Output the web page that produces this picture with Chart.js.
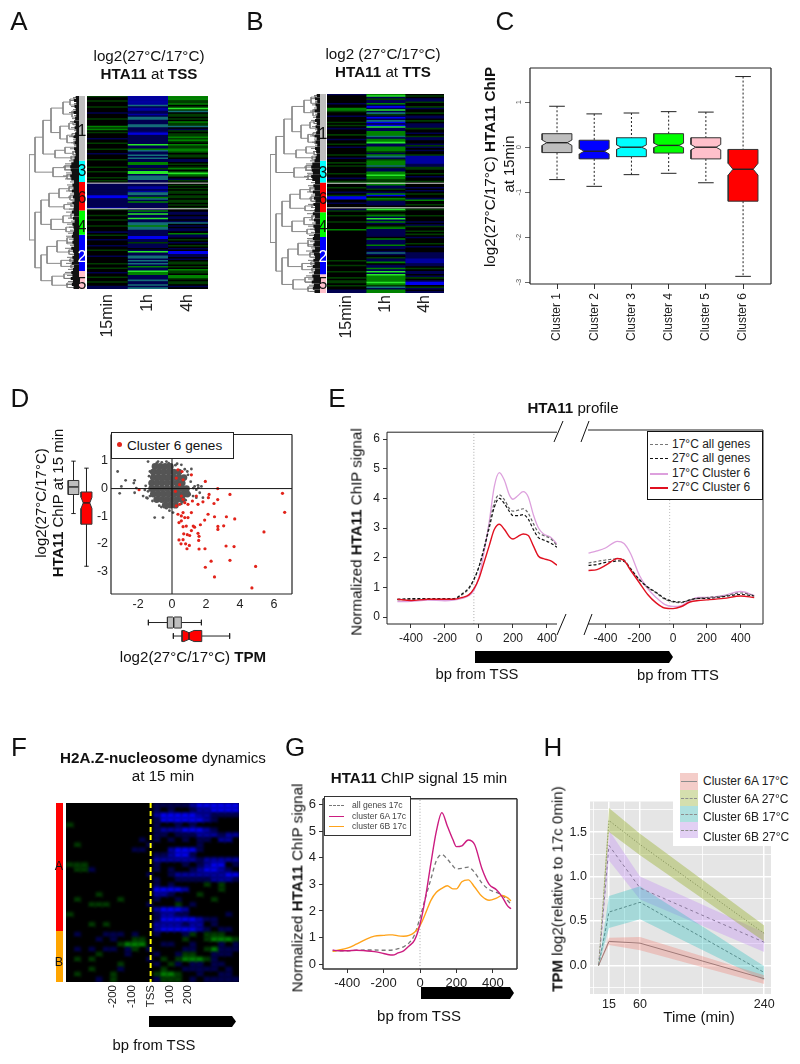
<!DOCTYPE html>
<html>
<head>
<meta charset="utf-8">
<title>HTA11 figure</title>
<script src="https://cdn.jsdelivr.net/npm/chart.js@4"></script>
<style>
html, body { margin: 0; background: #fff; overflow: hidden; }
#page { position: relative; width: 800px; height: 1064px; font-family: "Liberation Sans", Arial, sans-serif; color: #111; }
#page canvas { position: absolute; }
#page svg { position: absolute; left: 0; top: 0; }
.t { position: absolute; white-space: nowrap; line-height: 1; }
.box { position: absolute; background: #fff; box-sizing: border-box; }
</style>
</head>
<body>
<div id="page"></div>
<script>
// ---- heatmaps A / B, one string per time column, one letter per row
const heatTimes = ['15min', '1h', '4h'];
const heatA15 = 'g..g...g..' + '.a...g....' + 'hgh.g...a.' + '.g...g..a.' + '..g....g..' + 'g...g.g.aa' + 'aaaaaaccaa' + 'aaaabg...g' + '..g...g...' + 'a.g..a...a' + '..g...a...' + '.g..g..a..' + 'g..g..aa';
const heatA1h = 'bbbbbbtabb' + 'aabattaaat' + 'taaabcaaaa' + 'aaiaahtaat' + 'ataahhaaga' + 'iiatttaaaa' + 'bbabttahta' + 'haaaaahaia' + 'aiaatthtta' + 'aaaccaagaa' + 'a.aiaattat' + 'atahaaihha' + 'aataatat';
const heatA4h = 'hhhggh.gig' + 't.gg.g.hgg' + 't.ag.gghgh' + 'g.hgghhg.g' + 'g.aa.g.gh.' + 'gihg.ag..g' + '.g.gg.gg.g' + 'g.g.g..aa.' + 'aa.at.a.aa' + '.haa.g.a.g' + '.a.ccaa.a.' + 'gg.g.hgg.h' + 'hg.gg.a.';
const heatB15 = 'a.....a..h' + 'hg..a...g.' + 'g.a...g..a' + '..g.a....g' + '.a..g.g...' + '.g..a.gg..' + 'g..a.gcc..' + 'a...ag..g.' + '..g....h..' + '..........' + '.......g..' + 'g...g...g.' + 'gg.g..aa';
const heatB1h = 'hiagaahaca' + 'iatgacatca' + 'ciaahhhtah' + 'hiaahhhgah' + 'taghhhtgaa' + 'hhihhgghha' + 'ag.ahc.hga' + 'aa.gig.gha' + 'iaha.ghaaa' + 'aa.haaahaa' + '.ata.gaah.' + 'aahaiaihhh' + 'hihgtahh';
const heatB4h = '.g.aag..ga' + '..g.aa.g.a' + 'aag..a.gaa' + '..aga.a..g' + 'bbbbbaagg.' + '.g.a..g...' + 'a.a.g..ah.' + '.g..g...g.' + '..a.ag..g.' + 'g.a...g.a.' + '..aaaabbba' + 'a.g.aa.ag.' + 'acc.ga.a';

// dendrogram shared by A and B: [height, child, child], a number is a row
const clust1 = [36, [28, [16, [9, [5, 0.5, 1.5], [4, 2.5, 3.5]], [7, 5, [3, 6.5, 7.5]]], [19, [10, [6, 8.5, 9.5], 11], [12, [7, 12.5, 13.5], [5, 15, 16]]]], [24, [14, 17, [6, 18.5, 19.5]], [8, 20, 21]]];
const clust3 = [26, [14, 23, [6, 24, 25]], [12, 26, 27.5]];
const clust6 = [30, [20, [10, 30, 31.5], [9, 33, [4, 34, 35]]], [15, [8, 35.5, 36.5], 37.5]];
const clust4 = [28, [16, [8, 39, 40.5], 42], [13, 43.5, 45]];
const clust2 = [32, [22, [12, 47, [5, 48.5, 49.5]], [10, 51, 52.5]], [18, [9, 54, 55], [8, 56, 57]]];
const clust5 = [27, [15, 59, 60.5], [12, [6, 61.5, 62.5], 63.5]];
const treeRoot = [50, [44, clust1, clust3], [44, [38, clust6, clust4], [38, clust2, clust5]]];
const leafHeights = [6, 9, 5, 8, 6, 10, 5, 7, 9, 6, 8, 5, 7, 10, 6, 8, 5, 9, 7, 6, 8, 10, 14, 16, 15, 13, 16, 14, 9, 12,
  10, 13, 9, 11, 8, 12, 9, 10, 13, 9, 11, 8, 12, 10, 9, 11, 13, 10, 12, 9, 14, 11, 9, 12, 10, 13, 9, 11, 14, 12, 15, 11, 13, 10];
const clusterOrder = ['1', '3', '6', '4', '2', '5'];
const clusterRows = [21.5, 7, 9.5, 8, 12, 6];
const clusterColors = ['#bebebe', '#00ffff', '#ff0000', '#00ff00', '#0000ff', '#ffc0cb'];

// ---- C boxplot
const boxNames = ['Cluster 1', 'Cluster 2', 'Cluster 3', 'Cluster 4', 'Cluster 5', 'Cluster 6'];
const boxColors = ['#bebebe', '#0000ff', '#00ffff', '#00ff00', '#ffc0cb', '#ff0000'];
const boxHi = [0.91, 0.74, 0.76, 0.79, 0.78, 1.57];
const boxQ3 = [0.30, 0.155, 0.21, 0.30, 0.21, -0.05];
const boxMed = [0.10, -0.09, 0, 0.04, 0, -0.49];
const boxQ1 = [-0.12, -0.26, -0.21, -0.13, -0.26, -1.20];
const boxLo = [-0.72, -0.87, -0.61, -0.58, -0.79, -2.87];
const boxNotch = [0.06, 0.06, 0.05, 0.05, 0.06, 0.13];

// ---- D scatter
const coreX = [-1, -0.7, -0.4, -0.1, -1.1, -0.8, -0.5, -0.2, 0.1, 0.4, -1.1, -0.8, -0.5, -0.2, 0.1, 0.4, 0.7, -1.2, -0.9, -0.6, -0.3, 0, 0.3, 0.6,
  -1.2, -0.9, -0.6, -0.3, 0, 0.3, 0.6, 0.85, -1.1, -0.8, -0.5, -0.2, 0.1, 0.4, 0.7, 0.9, -0.9, -0.6, -0.3, 0, 0.3, 0.6, -0.4, -0.1, 0.2];
const coreY = [0.8, 0.8, 0.8, 0.8, 0.6, 0.6, 0.6, 0.6, 0.6, 0.6, 0.4, 0.4, 0.4, 0.4, 0.4, 0.4, 0.4, 0.2, 0.2, 0.2, 0.2, 0.2, 0.2, 0.2,
  0, 0, 0, 0, 0, 0, 0, 0, -0.2, -0.2, -0.2, -0.2, -0.2, -0.2, -0.2, -0.2, -0.4, -0.4, -0.4, -0.4, -0.4, -0.4, -0.6, -0.6, -0.6];
const greyX = [-3.2, -2.73, -2.98, -3.08, -2.2, -2.25, -2.1, -2.2, -1.7, -1.5, -1.02, -0.53, 0.06, -0.63, -0.33, -1.41, -0.82, -0.33, 0.55, 1.14, 0.94, 1.33, 1.53, 1.73, 1.63, 1.43, 1.24, 1.04, 1.43, 1.82, -1.3, -1.41, -1.3, -1.55, -1.6, -0.9, -0.6, -0.2, 0.2, 0.75, 1.1, -0.75, -0.15, 0.3, 0.9, 1.25, 1.55, -1.35, -1.45, -1.15, 0.55, 0.8];
const greyY = [0.62, 0.3, 0.08, -0.17, 0.3, 0.2, 0.02, -0.15, -0.27, -0.33, -1.05, -1.05, -0.87, -0.67, -0.71, 0.98, 0.98, 0.98, 0.86, 0.71, 0.5, 0.08, 0.12, 0.08, -0.15, -0.33, -0.27, -0.21, -0.04, -0.33, 0.62, -0.1, -0.27, 0.1, -0.05, 0.93, 0.95, 0.92, 0.85, 0.7, 0.25, -0.62, -0.8, 0.9, 0.62, 0.02, 0.03, 0.45, -0.35, -0.45, -0.55, -0.42];
const redX = [6.5, 6.63, 5.41, 4.92, 4.7, 2.5, 1.96, 2.3, 3.41, 3.65, 3.18, 3.69, 3.2, 3.04, 2.7, 2.7, 2.5, 2.12, 3.41, 2.69, 2.47, 2.18, 2.14, 2.69, 1.96, 1.94, 1.59, 1.57, 1.59, 1.53, 1.67, 1.92, 1.33, 1.25, 1.04, 0.88, 1.02, 0.8, 0.65, 0.41, 0.53, 0.69, 0.9, 1.14, 0.84, 0.65, 0.41, 0.55, 0.35, 0.55, 0.75, 0.94, 1.14, 0.65, 0.25, 0.45, 0.75, 0.94, 1.2, 1.53, 1.82, 0.55, 0.65, 0.2, 0.45, 0.65, 0.25, 0.35, 0.59, 1.14, -1.94, 1.43];
const redY = [-0.17, -0.86, -1.57, -2.82, -3.6, -3.2, -2.85, -2.63, -2.6, -2.1, -2.08, -1.1, -1.02, -1.35, -1.37, -1.48, -1.02, -0.93, -0.21, -0.4, -0.54, -0.21, -0.33, 0, 0.26, -2.18, -2.19, -1.88, -1.73, -1.62, -1.31, -1.14, -1.4, -1.36, -1.7, -2.18, -2.06, -2, -1.85, -1.86, -2, -1.64, -1.67, -1.52, -1.36, -1.38, -1.23, -1.17, -0.93, -0.99, -1.05, -1.05, -0.87, -0.87, -0.63, -0.57, -0.51, -0.57, -0.45, -0.57, -0.48, -0.27, -0.39, -0.1, 0.14, 0.32, 0.38, 0.68, 0.62, 0.5, -0.04, -0.27];
// side boxes of D: grey all genes, red cluster 6
const sideChip = { hi: [0.92, 0.67], q3: [0.23, -0.18], med: [0, -0.57], q1: [-0.27, -1.33], lo: [-0.95, -2.83], notch: [0.04, 0.2] };
const sideTpm = { hi: [1.73, 3.39], q3: [0.55, 1.75], med: [0.1, 1.0], q1: [-0.27, 0.59], lo: [-1.39, 0.08], notch: [0.06, 0.3] };

// ---- E profile
const tssBp = [-480, -400, -300, -200, -150, -100, -60, -30, 0, 30, 60, 90, 120, 150, 180, 200, 230, 260, 290, 320, 350, 380, 420, 460];
const tss17All = [0.58, 0.6, 0.6, 0.6, 0.6, 0.75, 0.95, 1.25, 1.7, 2.35, 3.1, 3.85, 4.12, 3.95, 3.65, 3.57, 3.6, 3.65, 3.5, 3.15, 2.85, 2.75, 2.65, 2.4];
const tss27All = [0.6, 0.62, 0.62, 0.62, 0.62, 0.78, 0.98, 1.27, 1.7, 2.3, 3.0, 3.7, 4.0, 3.82, 3.55, 3.42, 3.42, 3.45, 3.3, 2.95, 2.68, 2.6, 2.5, 2.35];
const tss17C6 = [0.52, 0.53, 0.57, 0.55, 0.57, 0.63, 0.72, 0.9, 1.35, 2.2, 3.2, 4.4, 4.87, 4.6, 4.1, 3.97, 4.1, 4.23, 4.05, 3.45, 3.0, 2.8, 2.7, 2.45];
const tss27C6 = [0.6, 0.56, 0.6, 0.6, 0.6, 0.66, 0.75, 0.95, 1.3, 1.85, 2.4, 2.95, 3.13, 2.95, 2.7, 2.63, 2.72, 2.8, 2.75, 2.4, 2.05, 1.97, 1.9, 1.75];
const ttsBp = [-500, -450, -400, -350, -330, -290, -250, -200, -150, -100, -50, 0, 50, 100, 150, 200, 300, 400, 480];
const tts17All = [1.8, 1.85, 1.9, 1.93, 1.95, 1.9, 1.6, 1.25, 0.98, 0.8, 0.6, 0.5, 0.48, 0.57, 0.62, 0.65, 0.7, 0.8, 0.72];
const tts27All = [1.72, 1.75, 1.82, 1.85, 1.87, 1.85, 1.6, 1.25, 1.0, 0.82, 0.62, 0.52, 0.5, 0.57, 0.62, 0.62, 0.68, 0.75, 0.7];
const tts17C6 = [2.13, 2.2, 2.3, 2.48, 2.52, 2.45, 2.1, 1.4, 0.95, 0.65, 0.42, 0.35, 0.38, 0.55, 0.65, 0.65, 0.72, 0.85, 0.72];
const tts27C6 = [1.55, 1.58, 1.72, 1.9, 1.95, 1.88, 1.55, 1.15, 0.75, 0.47, 0.3, 0.28, 0.35, 0.5, 0.55, 0.57, 0.62, 0.7, 0.65];

// ---- F heatmap, one string per row, one letter per bin
const dynRows = [
  '............aaaaabcccccc', '............a.a..abbcccc', '............bcccccbbaaaa', '............accccccba...',
  'g...........a..a.a......', '............abbbcccba...', '............aa.aaabbbabb', '..........a.a.a.a.aa.bb.',
  '.g.........a......a.....', '.........aa...bccca.....', '............aabcca......', '............bbbbbbabbbbb',
  'ggg.........a...a.abcc.a', '.gga........a.a..abccba.', '...........a..abbbbbbbcc', '............a..aaaaabbba',
  '............a.a....g.g..', '............ccccb....g..', '....g.......bba...g.....', '.g.....g....a..a....g...',
  '...ggg.....a...g.a......', '............bcccb.......', 'g...........abbaa.....a.', '............acccccbaa...',
  '...g.g......bbbbabb.a...', '............bcccccba.aa.', '.a...aaa.a..a...ag.ggg..', '....a.a..gg.....g..ghhhg',
  '.......ghhh..aa..a...a.a', '.a.a.aa.ag.a....aa.ghaaa', '....g...a...a..agg..aaa.', '.g.g.......a.g.ghhhga...',
  '.......g....a.ga.aa.aa..', '...g...a.....g..aaaaa.a.', '.g....g.....ghhg..a..aa.', '....a.g.....aggg.a.aaaaa'
];
const dynTicks = [-200, -100, 0, 100, 200];

// ---- G
const gBp = [-480, -450, -400, -350, -300, -250, -200, -170, -150, -120, -90, -60, -30, 0, 30, 60, 90, 120, 150, 180, 200, 230, 265, 300, 340, 380, 420, 450, 480, 500];
const gAll = [0.5, 0.5, 0.5, 0.52, 0.53, 0.53, 0.52, 0.52, 0.53, 0.58, 0.65, 0.8, 1.1, 1.75, 2.5, 3.2, 3.9, 4.12, 3.95, 3.7, 3.58, 3.6, 3.65, 3.45, 3.05, 2.8, 2.7, 2.6, 2.4, 2.25];
const g6A = [0.53, 0.5, 0.5, 0.52, 0.5, 0.47, 0.4, 0.35, 0.34, 0.42, 0.5, 0.68, 0.9, 1.5, 2.5, 3.8, 5.0, 5.7, 5.2, 4.7, 4.42, 4.45, 4.67, 4.5, 3.6, 3.0, 2.8, 2.55, 2.2, 2.08];
const g6B = [0.48, 0.52, 0.6, 0.75, 0.92, 1.05, 1.08, 1.1, 1.1, 1.06, 1.05, 1.08, 1.2, 1.45, 1.9, 2.4, 2.7, 2.85, 2.95, 2.83, 2.83, 3.1, 3.17, 2.9, 2.55, 2.4, 2.48, 2.58, 2.5, 2.38];

// ---- H
const hMin = [0, 15, 60, 240];
const h6A17 = [0, 0.27, 0.25, -0.15], h6A17Up = [0, 0.31, 0.32, -0.11], h6A17Lo = [0, 0.23, 0.17, -0.21];
const h6A27 = [0, 1.63, 1.36, 0.36], h6A27Up = [0, 1.77, 1.48, 0.45], h6A27Lo = [0, 1.5, 1.24, 0.27];
const h6B17 = [0, 0.6, 0.71, -0.08], h6B17Up = [0, 0.78, 0.89, -0.01], h6B17Lo = [0, 0.42, 0.52, -0.17];
const h6B27 = [0, 1.35, 0.87, 0.26], h6B27Up = [0, 1.52, 1.0, 0.37], h6B27Lo = [0, 1.18, 0.74, 0.15];

// ---- helpers
const FONT = 'Liberation Sans';
const page = document.getElementById('page');
const heatColor = { '.': '#000', a: '#000050', b: '#0000a0', c: '#0000f0', g: '#003c00', h: '#008200', i: '#28e628', t: '#146e78' };

const decor = {
  id: 'decor',
  beforeDraw(chart, args, o) {
    if (!o.bg) return;
    const a = chart.chartArea;
    chart.ctx.fillStyle = o.bg;
    chart.ctx.fillRect(a.left, a.top, a.right - a.left, a.bottom - a.top);
  },
  beforeDatasetsDraw(chart, args, o) {
    if (o.blur) chart.ctx.filter = `blur(${o.blur}px)`; // the source heatmaps are interpolated
  },
  afterDatasetsDraw(chart, args, o) {
    const a = chart.chartArea, c = chart.ctx;
    c.filter = 'none';
    c.save();
    (o.rows || []).forEach(r => { // separator lines across a heatmap
      const y = a.top + (a.bottom - a.top) * r / chart.data.labels.length;
      c.strokeStyle = '#d8d8d8'; c.lineWidth = 1;
      c.beginPath(); c.moveTo(a.left, y); c.lineTo(a.right, y); c.stroke();
    });
    if (o.tss !== undefined) {
      const x = chart.scales.x.getPixelForValue(o.tss);
      c.strokeStyle = '#ffff00'; c.lineWidth = 2; c.setLineDash([5, 3]);
      c.beginPath(); c.moveTo(x, a.top); c.lineTo(x, a.bottom); c.stroke();
      c.setLineDash([]);
    }
    if (o.sides) {
      c.strokeStyle = o.color || '#222'; c.lineWidth = o.width || 1;
      c.beginPath();
      if (o.sides.includes('l')) { c.moveTo(a.left, a.top); c.lineTo(a.left, a.bottom); }
      if (o.sides.includes('r')) { c.moveTo(a.right, a.top); c.lineTo(a.right, a.bottom); }
      if (o.sides.includes('t')) { c.moveTo(a.left, a.top); c.lineTo(a.right, a.top); }
      if (o.sides.includes('b')) { c.moveTo(a.left, a.bottom); c.lineTo(a.right, a.bottom); }
      c.stroke();
    }
    c.restore();
  }
};
Chart.register(decor);

// plot area lands at exactly x,y,w,h on the page
function plot(x, y, w, h, left, bottom, config) {
  const pad = 8;
  const cv = document.createElement('canvas');
  cv.width = w + left + pad; cv.height = h + bottom + pad;
  cv.style.left = (x - left) + 'px'; cv.style.top = (y - pad) + 'px';
  page.appendChild(cv);
  const o = config.options = config.options || {};
  o.responsive = false; o.animation = false; o.devicePixelRatio = 1;
  o.layout = { padding: { top: pad, right: pad, left: 0, bottom: 0 } };
  o.plugins = Object.assign({ legend: { display: false }, tooltip: { enabled: false }, title: { display: false } }, o.plugins);
  if (o.scales.y && o.scales.y.display !== false) o.scales.y.afterFit = s => { s.width = left; };
  if (o.scales.x && o.scales.x.display !== false) o.scales.x.afterFit = s => { s.height = bottom; };
  return new Chart(cv, config);
}

function txt(html, x, y, size, rot, color) {
  const d = document.createElement('div');
  d.className = 't';
  d.innerHTML = html;
  d.style.left = x + 'px'; d.style.top = y + 'px'; d.style.fontSize = size + 'px';
  d.style.transform = 'translate(-50%,-50%)' + (rot ? ' rotate(-90deg)' : '');
  if (color) d.style.color = color;
  page.appendChild(d);
}
function txtL(html, x, y, size, color) {
  const d = document.createElement('div');
  d.className = 't';
  d.innerHTML = html;
  d.style.left = x + 'px'; d.style.top = y + 'px'; d.style.fontSize = size + 'px';
  d.style.transform = 'translateY(-50%)';
  if (color) d.style.color = color;
  page.appendChild(d);
}

const pts = (xs, ys) => xs.map((x, i) => ({ x, y: ys[i] }));
const gap = { x: NaN, y: NaN };
const fixed = vals => s => { s.ticks = vals.map(value => ({ value })); };
const line = (data, color, width, dash, extra) => Object.assign({
  type: 'scatter', showLine: true, data, borderColor: color, borderWidth: width, borderDash: dash || [],
  pointRadius: 0, cubicInterpolationMode: 'monotone', fill: false
}, extra);
const straight = { cubicInterpolationMode: 'default' };
function axis(min, max, vals, size, len, opts) {
  return Object.assign({
    type: 'linear', min, max, afterBuildTicks: fixed(vals),
    border: { display: false },
    grid: { display: len > 0, drawOnChartArea: false, drawTicks: true, tickLength: len, color: '#333' },
    ticks: { autoSkip: false, padding: 3, color: '#222', font: { family: FONT, size } }
  }, opts);
}

// notched box, whisker and caps as scatter datasets; earlier datasets paint on top
function notchedBox(pos, i, s, color, half, capHalf, waist, horiz, dash) {
  const xy = (p, v) => horiz ? { x: v, y: p } : { x: p, y: v };
  const w = half, n = half * waist;
  const outline = [xy(pos - w, s.q1[i]), xy(pos + w, s.q1[i]), xy(pos + w, s.med[i] - s.notch[i]), xy(pos + n, s.med[i]), xy(pos + w, s.med[i] + s.notch[i]),
    xy(pos + w, s.q3[i]), xy(pos - w, s.q3[i]), xy(pos - w, s.med[i] + s.notch[i]), xy(pos - n, s.med[i]), xy(pos - w, s.med[i] - s.notch[i]), xy(pos - w, s.q1[i])];
  return [
    line([xy(pos - n, s.med[i]), xy(pos + n, s.med[i])], '#222', 1.4, [], straight),
    line(outline, '#333', 1, [], { cubicInterpolationMode: 'default', fill: 'shape', backgroundColor: color }),
    line([xy(pos, s.hi[i]), xy(pos, s.q3[i]), gap, xy(pos, s.q1[i]), xy(pos, s.lo[i])], '#222', 1, dash, straight),
    line([xy(pos - capHalf, s.hi[i]), xy(pos + capHalf, s.hi[i]), gap, xy(pos - capHalf, s.lo[i]), xy(pos + capHalf, s.lo[i])], '#222', 1, [], straight)
  ];
}

// heat cells as floating horizontal bars
function heat(x, y, w, h, bottom, cols, min, max, tickVals, tickText, fontSize, tickPad, deco) {
  const nRows = cols[0].length, step = (max - min) / cols.length;
  const labels = Array.from({ length: nRows }, (_, i) => i);
  const datasets = cols.map((col, j) => ({
    data: labels.map(() => [min + j * step, min + (j + 1) * step]),
    backgroundColor: labels.map(r => heatColor[col[r]] || '#000'),
    grouped: false, barPercentage: 1, categoryPercentage: 1, borderWidth: 0
  }));
  const xAxis = axis(min, max, tickVals, fontSize, 0);
  xAxis.ticks.minRotation = 90; xAxis.ticks.maxRotation = 90; xAxis.ticks.padding = tickPad;
  xAxis.ticks.callback = v => tickText[tickVals.indexOf(v)];
  plot(x, y, w, h, 0, bottom, {
    type: 'bar', data: { labels, datasets },
    options: { indexAxis: 'y', scales: { x: xAxis, y: { type: 'category', display: false } }, plugins: { decor: Object.assign({ bg: '#000' }, deco) } }
  });
}

function dendrogram(x, y, h) {
  const segs = [];
  const walk = node => {
    if (typeof node === 'number') return { y: node, h: 0 };
    const a = walk(node[1]), b = walk(node[2]);
    segs.push({ x: a.h, y: a.y }, { x: node[0], y: a.y }, { x: node[0], y: b.y }, { x: b.h, y: b.y }, gap);
    return { y: (a.y + b.y) / 2, h: node[0] };
  };
  walk(treeRoot);
  const combFine = [], combDark = [];
  leafHeights.forEach((lh, r) => {
    combFine.push({ x: lh, y: r + 0.5 }, { x: 0, y: r + 0.5 }, gap);
    combDark.push({ x: lh * 0.55, y: r + 0.5 }, { x: 0, y: r + 0.5 }, gap);
  });
  let start = 0;
  const bars = clusterRows.map((n, i) => {
    const d = line([{ x: -3, y: start }, { x: -3, y: start + n }], clusterColors[i], 6, [], { cubicInterpolationMode: 'default', borderCapStyle: 'butt' });
    start += n;
    return d;
  });
  plot(x, y, 58, h, 0, 0, {
    type: 'scatter',
    data: { datasets: [
      line(combDark, '#111', 3, [], { cubicInterpolationMode: 'default', borderCapStyle: 'butt' }),
      line(combFine, '#777', 1, [], straight),
      line(segs, '#8a8a8a', 1, [], straight)
    ].concat(bars) },
    options: { scales: { x: { type: 'linear', display: false, min: -8, max: 50, reverse: true }, y: { type: 'linear', display: false, min: 0, max: 64, reverse: true } } }
  });
}

// ---- A, B
dendrogram(29, 96, 193);
heat(87, 96, 121, 193, 60, [heatA15, heatA1h, heatA4h], 0, 3, [0.5, 1.5, 2.5], heatTimes, 16, 5, { rows: [57.8, 74.8], blur: 0.4 });
dendrogram(270, 94, 199);
heat(327, 94, 117, 199, 60, [heatB15, heatB1h, heatB4h], 0, 3, [0.5, 1.5, 2.5], heatTimes, 16, 2, { rows: [57.4, 73.2], blur: 0.4 });

// ---- C
let cSets = [];
boxNames.forEach((_, i) => {
  cSets = cSets.concat(notchedBox(i + 1, i, { hi: boxHi, q3: boxQ3, med: boxMed, q1: boxQ1, lo: boxLo, notch: boxNotch }, boxColors[i], 0.4, 0.21, 0.68, false, [2, 2]));
});
const cx = axis(0.274, 6.75, [1, 2, 3, 4, 5, 6], 12, 5);
cx.ticks.minRotation = 90; cx.ticks.maxRotation = 90; cx.ticks.padding = 4;
cx.ticks.callback = v => boxNames[v - 1];
const cy = axis(-3.04, 1.76, [-3, -2, -1, 0, 1], 7.5, 5);
cy.ticks.minRotation = 90; cy.ticks.maxRotation = 90; cy.ticks.crossAlign = 'center'; cy.ticks.color = '#555'; cy.ticks.padding = 3;
cy.grid.color = '#666';
plot(530, 68, 241, 216, 20, 72, { type: 'scatter', data: { datasets: cSets }, options: { scales: { x: cx, y: cy }, plugins: { decor: { sides: 'lrtb', width: 1.2 } } } });

// ---- D
const dMinX = -3.59, dMaxX = 7.06, dMinY = -3.82, dMaxY = 1.96;
plot(111, 432, 181, 162, 30, 22, {
  type: 'scatter',
  data: { datasets: [
    line([{ x: 0, y: dMinY }, { x: 0, y: dMaxY }], '#111', 1, [], straight),
    line([{ x: dMinX, y: 0 }, { x: dMaxX, y: 0 }], '#111', 1, [], straight),
    { data: pts(redX, redY), pointRadius: 1.6, backgroundColor: '#e2231a', borderWidth: 0 },
    { data: pts(greyX, greyY), pointRadius: 1.4, backgroundColor: '#555', borderWidth: 0 },
    { data: pts(coreX, coreY), pointRadius: 3.4, backgroundColor: '#555', borderWidth: 0 }
  ] },
  options: { scales: { x: axis(dMinX, dMaxX, [-2, 0, 2, 4, 6], 12.5, 0, {}), y: axis(dMinY, dMaxY, [-3, -2, -1, 0, 1], 12.5, 0, {}) }, plugins: { decor: { sides: 'lrtb', width: 1.2 } } }
});
// D side boxes share the scatter's ranges
plot(62, 432, 36, 162, 0, 0, {
  type: 'scatter',
  data: { datasets: notchedBox(1, 0, sideChip, '#bebebe', 0.42, 0.17, 0.88, false, []).concat(notchedBox(2, 1, sideChip, '#ff0000', 0.42, 0.17, 0.6, false, [])) },
  options: { scales: { x: { type: 'linear', display: false, min: 0.115, max: 2.885 }, y: { type: 'linear', display: false, min: dMinY, max: dMaxY } } }
});
plot(111, 612, 181, 34, 0, 0, {
  type: 'scatter',
  data: { datasets: notchedBox(1, 0, sideTpm, '#bebebe', 0.41, 0.2, 0.88, true, []).concat(notchedBox(2, 1, sideTpm, '#ff0000', 0.41, 0.2, 0.6, true, [])) },
  options: { scales: { x: { type: 'linear', display: false, min: dMinX, max: dMaxX }, y: { type: 'linear', display: false, min: 0.22, max: 2.74, reverse: true } } }
});

// ---- E
const eMinY = -0.233, eMaxY = 6.23;
plot(387, 430, 170, 194, 30, 26, {
  type: 'scatter',
  data: { datasets: [
    line(pts(tssBp, tss27C6), '#e01020', 1.4),
    line(pts(tssBp, tss27All), '#111', 1.2, [3, 2]),
    line(pts(tssBp, tss17All), '#666', 1.2, [3, 2]),
    line(pts(tssBp, tss17C6), '#dda0dd', 1.3),
    line([{ x: -30, y: eMinY }, { x: -30, y: eMaxY }], '#aaa', 1, [1, 2])
  ] },
  options: { scales: { x: axis(-541, 459, [-400, -200, 0, 200, 400], 12, 4), y: axis(eMinY, eMaxY, [0, 1, 2, 3, 4, 5, 6], 12, 4) }, plugins: { decor: { sides: 'ltb', width: 1 } } }
});
plot(588, 430, 175, 194, 0, 26, {
  type: 'scatter',
  data: { datasets: [
    line(pts(ttsBp, tts27C6), '#e01020', 1.4),
    line(pts(ttsBp, tts27All), '#111', 1.2, [3, 2]),
    line(pts(ttsBp, tts17All), '#666', 1.2, [3, 2]),
    line(pts(ttsBp, tts17C6), '#dda0dd', 1.3),
    line([{ x: -20, y: eMinY }, { x: -20, y: eMaxY }], '#bbb', 1, [1, 2])
  ] },
  options: { scales: { x: axis(-503, 532, [-400, -200, 0, 200, 400], 12, 4), y: { type: 'linear', display: false, min: eMinY, max: eMaxY } }, plugins: { decor: { sides: 'rtb', width: 1 } } }
});

// ---- F
const dynCols = dynRows[0].split('').map((_, j) => dynRows.map(r => r[j] || '.').join(''));
heat(66, 803, 173, 179, 40, dynCols, -450, 470, dynTicks, ['-200', '-100', 'TSS', '100', '200'], 11.5, 3, { tss: 0, blur: 1.6 });

// ---- G
const gMinY = -0.185, gMaxY = 6.22;
plot(323, 796, 194, 173, 30, 22, {
  type: 'scatter',
  data: { datasets: [
    line(pts(gBp, g6A), '#cc1c80', 1.4),
    line(pts(gBp, g6B), '#ffa31a', 1.4),
    line(pts(gBp, gAll), '#777', 1.3, [4, 3]),
    line([{ x: 0, y: gMinY }, { x: 0, y: gMaxY }], '#aaa', 1, [1, 2])
  ] },
  options: { scales: { x: axis(-533, 533, [-400, -200, 0, 200, 400], 13, 4), y: axis(gMinY, gMaxY, [0, 1, 2, 3, 4, 5, 6], 13, 4) }, plugins: { decor: { sides: 'lrtb', width: 1.5, color: '#333' } } }
});

// ---- H
const hxAll = [-7.5, 15, 37.5, 60, 150, 240], hxMajor = [15, 60, 240];
const hyAll = [-0.25, 0, 0.25, 0.5, 0.75, 1, 1.25, 1.5, 1.75], hyMajor = [0, 0.5, 1, 1.5];
const hAxisX = axis(-12.5, 249.8, hxAll, 12.5, 0);
hAxisX.ticks.callback = v => hxMajor.includes(v) ? String(v) : '';
hAxisX.grid = { display: true, drawTicks: false, color: '#fff', lineWidth: c => hxMajor.includes(c.tick && c.tick.value) ? 1.5 : 0.8 };
const hAxisY = axis(-0.322, 1.844, hyAll, 12.5, 0);
hAxisY.ticks.callback = v => hyMajor.includes(v) ? v.toFixed(1) : '';
hAxisY.grid = { display: true, drawTicks: false, color: '#fff', lineWidth: c => hyMajor.includes(c.tick && c.tick.value) ? 1.5 : 0.8 };
const ribbon = (up, lo, color) => [
  line(pts(hMin, up), 'transparent', 0, [], straight),
  line(pts(hMin, lo), 'transparent', 0, [], { cubicInterpolationMode: 'default', fill: '-1', backgroundColor: color })
];
plot(590, 799, 181, 195, 30, 24, {
  type: 'scatter',
  data: { datasets: [].concat(
    line(pts(hMin, h6A17), '#a07a78', 1, [], straight),
    line(pts(hMin, h6A27), '#7d8a52', 1, [1, 2], straight),
    line(pts(hMin, h6B17), '#5a8e8e', 1, [3, 2], straight),
    line(pts(hMin, h6B27), '#8a7a9c', 1, [3, 3], straight),
    ribbon(h6A17Up, h6A17Lo, 'rgba(240,120,110,0.32)'), ribbon(h6A27Up, h6A27Lo, 'rgba(150,175,40,0.40)'),
    ribbon(h6B17Up, h6B17Lo, 'rgba(30,190,190,0.32)'), ribbon(h6B27Up, h6B27Lo, 'rgba(190,130,245,0.32)')
  ) },
  options: { scales: { x: hAxisX, y: hAxisY }, plugins: { decor: { bg: '#e5e5e5' } } }
});

// ---- annotations: break marks and gene arrows
const NS = 'http://www.w3.org/2000/svg';
const svg = document.createElementNS(NS, 'svg');
svg.setAttribute('width', 800); svg.setAttribute('height', 1064);
svg.innerHTML =
  '<g stroke="#111" stroke-width="1"><line x1="554" y1="442" x2="563" y2="421"/><line x1="581" y1="442" x2="589" y2="421"/>' +
  '<line x1="557" y1="635" x2="566" y2="614"/><line x1="584" y1="635" x2="592" y2="614"/></g>' +
  '<polygon points="475,651 669,651 673,657 669,663 475,663"/>' +
  '<polygon points="149,1016 232,1016 236,1021.5 232,1027 149,1027"/>' +
  '<polygon points="421,987 510,987 514,993 510,999 421,999"/>' +
  '<rect x="56" y="803" width="7" height="128" fill="#ff0000"/><rect x="56" y="931" width="7" height="51" fill="#ffa500"/>';
page.appendChild(svg);

// ---- legends
function legendBox(x, y, w, h, border) {
  const d = document.createElement('div');
  d.className = 'box';
  d.style.cssText = `left:${x}px;top:${y}px;width:${w}px;height:${h}px;` + (border ? `border:${border}` : '');
  page.appendChild(d);
}
function key(x, y, w, color, width, dash) {
  const d = document.createElement('div');
  d.style.cssText = `position:absolute;left:${x}px;top:${y}px;width:${w}px;` +
    (dash ? `border-top:${width}px dashed ${color}` : `height:${width}px;background:${color}`);
  page.appendChild(d);
}
legendBox(111, 432, 123, 27, '1.2px solid #222');
const dot = document.createElement('div');
dot.style.cssText = 'position:absolute;left:117px;top:442px;width:5px;height:5px;border-radius:50%;background:#e2231a';
page.appendChild(dot);
txtL('Cluster 6 genes', 127, 446, 13.6);

legendBox(647, 431, 116, 69, '1.2px solid #111');
const eLabels = ['17°C all genes', '27°C all genes', '17°C Cluster 6', '27°C Cluster 6'];
const eKeys = [['#777', 1, true], ['#111', 1.4, true], ['#dda0dd', 1.5, false], ['#e01020', 1.5, false]];
[444, 458, 473, 487].forEach((ly, i) => {
  key(650, ly, 18, eKeys[i][0], eKeys[i][1], eKeys[i][2]);
  txtL(eLabels[i], 672, ly, 12, '#222');
});

legendBox(324, 796, 87, 40, '1.2px solid #333');
const gLabels = ['all genes 17c', 'cluster 6A 17c', 'cluster 6B 17c'];
const gKeys = [['#777', 1, true], ['#cc1c80', 1.3, false], ['#ffa31a', 1.3, false]];
[805, 815.5, 826].forEach((ly, i) => {
  key(329, ly, 15, gKeys[i][0], gKeys[i][1], gKeys[i][2]);
  txtL(gLabels[i], 352, ly, 8.6, '#444');
});

legendBox(673, 773, 127, 73);
const hLabels = ['Cluster 6A 17°C', 'Cluster 6A 27°C', 'Cluster 6B 17°C', 'Cluster 6B 27°C'];
const hFill = ['#f4cdc9', '#d5dfae', '#aee0df', '#e2d0f4'];
const hTops = [773, 790, 806, 822], hHeights = [17, 16, 16, 16], hText = [781, 799, 817, 837];
hLabels.forEach((l, i) => {
  const s = document.createElement('div');
  s.style.cssText = `position:absolute;left:680px;top:${hTops[i]}px;width:18px;height:${hHeights[i]}px;background:${hFill[i]}`;
  page.appendChild(s);
  key(681, hTops[i] + 8, 16, '#8d8d8d', 1, i > 0);
  txtL(l, 703, hText[i], 12, '#222');
});

// ---- text
[['A', 19, 21], ['B', 255, 21], ['C', 505, 21], ['D', 20, 398], ['E', 337, 398], ['F', 19, 747], ['G', 295, 747], ['H', 553, 747]].forEach(p => txt(p[0], p[1], p[2], 26));

txt('log2(27°C/17°C)', 149, 56, 15.2);
txt('<b>HTA11</b> at <b>TSS</b>', 149, 74, 15.2);
txt('log2 (27°C/17°C)', 383, 54, 15.2);
txt('<b>HTA11</b> at <b>TTS</b>', 383, 72, 15.2);
const clusterY = [[131, 171, 198, 227, 257, 284], [134, 173, 199, 227, 257, 284]];
clusterOrder.forEach((c, i) => {
  txt(c, 82, clusterY[0][i], 16, false, c === '2' ? '#fff' : '#111');
  txt(c, 323, clusterY[1][i], 16, false, c === '2' ? '#fff' : '#111');
});

txt('log2(27°C/17°C) <b>HTA11 ChIP</b>', 490, 167, 15.2, true);
txt('at 15min', 509, 164, 14.8, true);

txt('log2(27°C/17°C)', 40, 503, 15, true);
txt('<b>HTA11</b> ChIP at 15 min', 57, 503, 15, true);
txt('log2(27°C/17°C) <b>TPM</b>', 193, 657, 15.1);

txt('<b>HTA11</b> profile', 573, 408, 15.1);
txt('Normalized <b>HTA11</b> ChIP signal', 356, 532, 15.1, true);
txt('bp from TSS', 477, 674, 14.8);
txt('bp from TTS', 678, 675, 14.8);

txt('<b>H2A.Z-nucleosome</b> dynamics', 163, 758, 15.2);
txt('at 15 min', 163, 776, 15.2);
txt('A', 59, 866, 12.5);
txt('B', 59, 962, 12.5);
txt('bp from TSS', 154, 1045, 14.8);

txt('<b>HTA11</b> ChIP signal 15 min', 419, 778, 15.1);
txt('Normalized <b>HTA11</b> ChIP signal', 297, 888, 15.2, true);
txt('bp from TSS', 419, 1015, 15);

txt('<b>TPM</b> log2(relative to 17c 0min)', 557, 889, 15.1, true);
txt('Time (min)', 699, 1017, 15.1);
</script>
</body>
</html>
